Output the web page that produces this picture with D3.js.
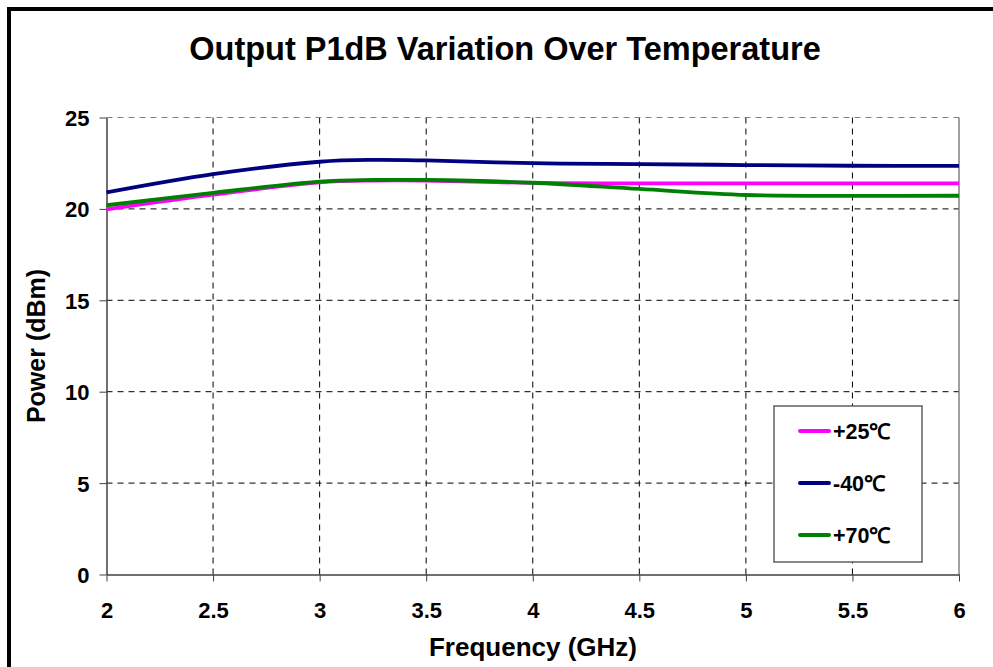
<!DOCTYPE html>
<html>
<head>
<meta charset="utf-8">
<script src="https://cdn.jsdelivr.net/npm/d3@7"></script>
<style>
  body { margin: 0; background: #fff; }
  svg { display: block; }
  text { font-family: "Liberation Sans", Arial, sans-serif; font-weight: bold; fill: #000; }
</style>
</head>
<body>
<svg id="chart" width="993" height="667"></svg>
<script>
// frequency (GHz) and P1dB (dBm)
const freq = [2, 2.5, 3, 3.25, 3.5, 4, 4.5, 5, 5.5, 6];
const p25  = [19.98, 20.78, 21.45, 21.55, 21.55, 21.42, 21.4, 21.4, 21.4, 21.4];
const m40  = [20.9, 21.9, 22.58, 22.68, 22.65, 22.5, 22.45, 22.4, 22.36, 22.35];
const p70  = [20.2, 20.88, 21.49, 21.58, 21.58, 21.43, 21.09, 20.76, 20.71, 20.72];
const xTicks = [2, 2.5, 3, 3.5, 4, 4.5, 5, 5.5, 6];
const yTicks = [0, 5, 10, 15, 20, 25];

const series = [
  {name: "+25\u2103", color: "#ff00ff", values: p25},
  {name: "-40\u2103", color: "#000080", values: m40},
  {name: "+70\u2103", color: "#008000", values: p70}
];

const svg = d3.select("#chart");
const margin = {top: 117.5, right: 34, bottom: 92.5, left: 106.5};
const width = 993, height = 667;

// outer frame
svg.append("rect")
    .attr("x", 9).attr("y", 9)
    .attr("width", 1100).attr("height", 800)
    .attr("fill", "none")
    .attr("stroke", "#000")
    .attr("stroke-width", 4);

const x = d3.scaleLinear()
    .domain([2, 6])
    .range([margin.left, width - margin.right]);

const y = d3.scaleLinear()
    .domain([0, 25])
    .range([height - margin.bottom, margin.top]);

// grid
svg.append("g")
    .selectAll("line")
    .data(xTicks.slice(1, -1))
    .join("line")
      .attr("x1", d => x(d)).attr("x2", d => x(d))
      .attr("y1", y(25)).attr("y2", y(0))
      .attr("stroke", "#000")
      .attr("stroke-dasharray", "6,5");

svg.append("g")
    .selectAll("line")
    .data(yTicks.slice(1))
    .join("line")
      .attr("x1", x(2)).attr("x2", x(6))
      .attr("y1", d => y(d)).attr("y2", d => y(d))
      .attr("stroke", d => d === 25 ? "#808080" : "#000")
      .attr("stroke-dasharray", "6,5");

// right edge of plot area
svg.append("line")
    .attr("x1", x(6)).attr("x2", x(6))
    .attr("y1", y(25)).attr("y2", y(0))
    .attr("stroke", "#808080")
    .attr("stroke-width", 1.5);

// axes
svg.append("g")
    .attr("transform", `translate(0,${y(0)})`)
    .call(d3.axisBottom(x).tickValues(xTicks).tickSize(7).tickSizeOuter(0).tickFormat(d3.format("")))
    .call(g => g.select(".domain").attr("stroke", "#404040").attr("stroke-width", 1.5))
    .call(g => g.selectAll(".tick line").attr("stroke", "#404040"))
    .call(g => g.selectAll(".tick text")
        .attr("dy", null).attr("y", 43)
        .style("font-size", "22px"));

svg.append("g")
    .attr("transform", `translate(${x(2)},0)`)
    .call(d3.axisLeft(y).tickValues(yTicks).tickSize(7).tickSizeOuter(0))
    .call(g => g.select(".domain").attr("stroke", "#404040").attr("stroke-width", 1.5))
    .call(g => g.selectAll(".tick line").attr("stroke", "#404040"))
    .call(g => g.selectAll(".tick text")
        .attr("x", -17).attr("dy", "0.36em")
        .style("font-size", "22px"));

// curves
const line = d3.line()
    .x((d, i) => x(freq[i]))
    .y(d => y(d))
    .curve(d3.curveCatmullRom.alpha(0.5));

svg.append("g")
    .selectAll("path")
    .data(series)
    .join("path")
      .attr("fill", "none")
      .attr("stroke", d => d.color)
      .attr("stroke-width", 3.8)
      .attr("stroke-linejoin", "round")
      .attr("d", d => line(d.values));

// titles
svg.append("text")
    .attr("x", 505).attr("y", 60)
    .attr("text-anchor", "middle")
    .attr("font-size", 32.5)
    .text("Output P1dB Variation Over Temperature");

svg.append("text")
    .attr("x", 533).attr("y", 656)
    .attr("text-anchor", "middle")
    .attr("font-size", 26)
    .text("Frequency (GHz)");

svg.append("text")
    .attr("transform", "translate(45,346) rotate(-90)")
    .attr("text-anchor", "middle")
    .attr("font-size", 25)
    .text("Power (dBm)");

// legend
const legend = svg.append("g");
legend.append("rect")
    .attr("x", 774).attr("y", 406)
    .attr("width", 148).attr("height", 156)
    .attr("fill", "#fff")
    .attr("stroke", "#606060")
    .attr("stroke-width", 1.5);

const item = legend.selectAll("g")
    .data(series)
    .join("g")
      .attr("transform", (d, i) => `translate(0,${431 + i * 52})`);

item.append("line")
    .attr("x1", 800).attr("x2", 829)
    .attr("stroke", d => d.color)
    .attr("stroke-width", 4)
    .attr("stroke-linecap", "round");

item.append("text")
    .attr("x", 833).attr("y", 0)
    .attr("dy", "0.36em")
    .attr("font-size", 21.5)
    .text(d => d.name);
</script>
</body>
</html>
